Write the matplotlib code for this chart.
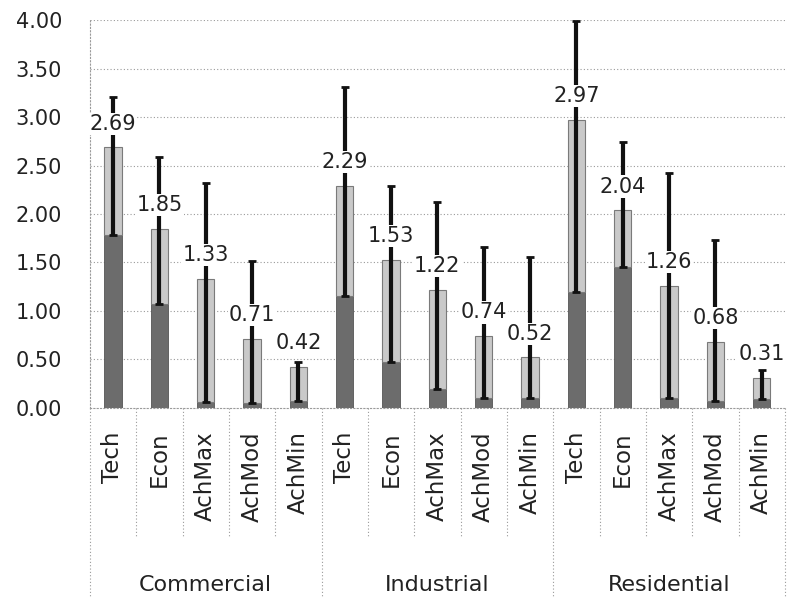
import matplotlib.pyplot as plt
import matplotlib.transforms as mtransforms
import numpy as np

plt.rcParams['font.family'] = ['DejaVu Sans']

groups = ['Commercial', 'Industrial', 'Residential']
scenarios = ['Tech', 'Econ', 'AchMax', 'AchMod', 'AchMin']

values = [2.69, 1.85, 1.33, 0.71, 0.42,
          2.29, 1.53, 1.22, 0.74, 0.52,
          2.97, 2.04, 1.26, 0.68, 0.31]
low = [1.78, 1.07, 0.06, 0.05, 0.07,
       1.15, 0.47, 0.19, 0.10, 0.10,
       1.20, 1.45, 0.10, 0.07, 0.09]
high = [3.21, 2.59, 2.32, 1.51, 0.47,
        3.31, 2.29, 2.12, 1.66, 1.56,
        3.99, 2.74, 2.42, 1.73, 0.39]

values = np.array(values)
low = np.array(low)
high = np.array(high)
x = np.arange(len(values))

fig = plt.figure(figsize=(7.88, 5.97), dpi=100)
ax = fig.add_axes([0.114, 0.317, 0.882, 0.649])

# gridlines
for yv in np.arange(0.5, 4.01, 0.5):
    ax.axhline(yv, color='#9a9a9a', lw=0.8, ls=(0, (1, 2)), zorder=0)

ax.bar(x, low, width=0.38, color='#6c6c6c', edgecolor='#555555', lw=0.6, zorder=2)
ax.bar(x, values - low, bottom=low, width=0.38, color='#c9c9c9',
       edgecolor='#7a7a7a', lw=0.8, zorder=2)

ax.errorbar(x, low, yerr=[np.zeros_like(low), high - low], fmt='none',
            ecolor='#111111', elinewidth=3, capsize=3, capthick=2, zorder=3)

for xi, v in zip(x, values):
    ax.annotate(f'{v:.2f}', (xi, v), xytext=(0, 17), textcoords='offset points',
                ha='center', va='center', fontsize=15, color='#222222',
                bbox=dict(boxstyle='square,pad=0.05', fc='white', ec='none'),
                zorder=4)

ax.set_xlim(-0.5, len(values) - 0.5)
ax.set_ylim(0, 4)
ax.set_yticks(np.arange(0, 4.01, 0.5))
ax.set_yticklabels([f'{t:.2f}' for t in np.arange(0, 4.01, 0.5)], fontsize=15)
ax.tick_params(axis='y', length=0, pad=20, colors='#222222')
ax.tick_params(axis='x', length=0)
ax.set_xticks(x)
ax.set_xticklabels(scenarios * 3, rotation=90, fontsize=16.5, va='top')
ax.tick_params(axis='x', pad=17, colors='#222222')

for s in ['top', 'right']:
    ax.spines[s].set_visible(False)
ax.spines['left'].set_linestyle((0, (1, 2)))
ax.spines['left'].set_color('#9a9a9a')
ax.spines['bottom'].set_linestyle((0, (1, 2)))
ax.spines['bottom'].set_color('#9a9a9a')

# separators below the axis
trans = mtransforms.blended_transform_factory(ax.transData, ax.transAxes)
for i in range(len(values) + 1):
    bottom = -0.333 if i % 5 else -0.49
    ax.plot([i - 0.5, i - 0.5], [0, bottom], transform=trans, clip_on=False,
            color='#9a9a9a', lw=0.8, ls=(0, (1, 2)))

for g, name in enumerate(groups):
    ax.text(g * 5 + 2, -0.457, name, transform=trans, ha='center', va='center',
            fontsize=16, color='#222222')

fig.savefig('out.png', dpi=100)
